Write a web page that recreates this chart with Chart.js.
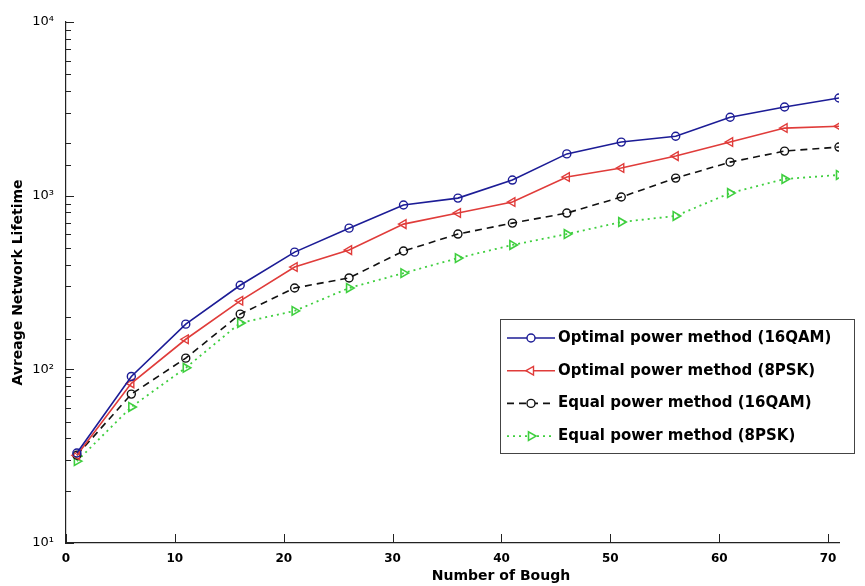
<!DOCTYPE html>
<html>
<head>
<meta charset="utf-8">
<script src="https://cdn.jsdelivr.net/npm/chart.js@4"></script>
<style>
  body { margin: 0; background: #fff; }
  #wrap { width: 865px; height: 586px; }
</style>
</head>
<body>
<div id="wrap"><canvas id="myChart" width="865" height="586"></canvas></div>
<script>
// data
const boughs = [1, 6, 11, 16, 21, 26, 31, 36, 41, 46, 51, 56, 61, 66, 71];
const optimal16qam = [33, 91, 182, 305, 473, 650, 883, 968, 1230, 1740, 2035, 2200, 2830, 3240, 3650];
const optimal8psk = [32, 83, 149, 248, 388, 486, 686, 794, 919, 1280, 1442, 1690, 2035, 2450, 2510];
const equal16qam = [32, 72, 116, 208, 294, 336, 480, 601, 695, 794, 982, 1262, 1560, 1806, 1905];
const equal8psk = [29.6, 60.7, 102, 185, 217, 294, 358, 437, 520, 601, 705, 764, 1035, 1247, 1316];
const seriesNames = [
    'Optimal power method (16QAM)',
    'Optimal power method (8PSK)',
    'Equal power method (16QAM)',
    'Equal power method (8PSK)'
];
const xTicks = [0, 10, 20, 30, 40, 50, 60, 70];
const yDecades = [10, 100, 1000, 10000];
const supers = { 1: '\u00b9', 2: '\u00b2', 3: '\u00b3', 4: '\u2074' };

const toPoints = vals => vals.map((v, i) => ({ x: boughs[i], y: v }));

// inward tick marks, MATLAB style
const tickMarks = {
    id: 'tickMarks',
    afterDraw(chart) {
        const { ctx, chartArea, scales } = chart;
        ctx.save();
        ctx.strokeStyle = '#222';
        ctx.lineWidth = 1;
        ctx.beginPath();
        for (let t of scales.y.ticks) {
            const p = Math.round(scales.y.getPixelForValue(t.value)) + 0.5;
            const major = yDecades.includes(t.value);
            ctx.moveTo(chartArea.left, p);
            ctx.lineTo(chartArea.left + (major ? 8 : 5), p);
        }
        for (let v of xTicks) {
            const p = Math.round(scales.x.getPixelForValue(v)) + 0.5;
            ctx.moveTo(p, chartArea.bottom);
            ctx.lineTo(p, chartArea.bottom - 9);
        }
        ctx.stroke();
        ctx.restore();
    }
};

// axis titles
const axisTitles = {
    id: 'axisTitles',
    afterDraw(chart) {
        const { ctx, chartArea } = chart;
        ctx.save();
        ctx.fillStyle = '#000';
        ctx.font = 'bold 14px "DejaVu Sans"';
        ctx.textAlign = 'center';
        ctx.textBaseline = 'middle';
        ctx.fillText('Number of Bough', 501, 576);
        ctx.translate(18, (chartArea.top + chartArea.bottom) / 2);
        ctx.rotate(-Math.PI / 2);
        ctx.fillText('Avreage Network Lifetime', 0, 0);
        ctx.restore();
    }
};

// legend box inside the plot
const boxLegend = {
    id: 'boxLegend',
    afterDraw(chart) {
        const { ctx } = chart;
        const left = 500, top = 319, right = 854, bottom = 453;
        ctx.save();
        ctx.fillStyle = '#fff';
        ctx.fillRect(left, top, right - left, bottom - top);
        ctx.strokeStyle = '#444';
        ctx.lineWidth = 1;
        ctx.strokeRect(left + 0.5, top + 0.5, right - left, bottom - top);
        chart.data.datasets.forEach((ds, i) => {
            const y = 338 + i * 32.7;
            ctx.strokeStyle = ds.borderColor;
            ctx.lineWidth = ds.borderWidth;
            ctx.setLineDash(ds.borderDash || []);
            ctx.beginPath();
            ctx.moveTo(507, y);
            ctx.lineTo(555, y);
            ctx.stroke();
            ctx.setLineDash([]);
            ctx.fillStyle = '#fff';
            ctx.lineWidth = ds.pointBorderWidth;
            Chart.helpers.drawPoint(ctx, {
                pointStyle: ds.pointStyle,
                radius: ds.pointRadius,
                rotation: ds.pointRotation || 0,
                borderWidth: ds.pointBorderWidth
            }, 531, y);
            ctx.fillStyle = '#000';
            ctx.font = 'bold 15px "DejaVu Sans"';
            ctx.textAlign = 'left';
            ctx.textBaseline = 'middle';
            ctx.fillText(ds.label, 558, y);
        });
        ctx.restore();
    }
};

const ctx = document.getElementById('myChart').getContext('2d');
const myChart = new Chart(ctx, {
    type: 'line',
    data: {
        datasets: [{
            label: seriesNames[0],
            data: toPoints(optimal16qam),
            borderColor: '#1c1c96',
            borderWidth: 1.6,
            pointStyle: 'circle',
            pointRadius: 4,
            pointBorderWidth: 1.4,
            pointBackgroundColor: 'transparent'
        }, {
            label: seriesNames[1],
            data: toPoints(optimal8psk),
            borderColor: '#e03c3a',
            borderWidth: 1.6,
            pointStyle: 'triangle',
            pointRotation: -90,
            pointRadius: 5,
            pointBorderWidth: 1.4,
            pointBackgroundColor: 'transparent'
        }, {
            label: seriesNames[2],
            data: toPoints(equal16qam),
            borderColor: '#111',
            borderWidth: 1.6,
            borderDash: [7, 5],
            pointStyle: 'circle',
            pointRadius: 4,
            pointBorderWidth: 1.4,
            pointBackgroundColor: 'transparent'
        }, {
            label: seriesNames[3],
            data: toPoints(equal8psk),
            borderColor: '#3fcf3f',
            borderWidth: 1.8,
            borderDash: [2, 4],
            pointStyle: 'triangle',
            pointRotation: 90,
            pointRadius: 5,
            pointBorderWidth: 1.6,
            pointBackgroundColor: 'transparent'
        }]
    },
    options: {
        responsive: false,
        animation: false,
        layout: { padding: { top: 22, right: 26, left: 0, bottom: 0 } },
        plugins: {
            legend: { display: false },
            tooltip: { enabled: false }
        },
        elements: { line: { tension: 0 } },
        scales: {
            x: {
                type: 'linear',
                min: 0,
                max: 71,
                grid: { display: false, drawTicks: false },
                border: { display: true, color: '#222', width: 1.2 },
                ticks: {
                    stepSize: 10,
                    includeBounds: false,
                    padding: 9,
                    color: '#000',
                    maxRotation: 0,
                    font: { family: 'DejaVu Sans', size: 12, weight: 'bold' }
                },
                afterFit(scale) { scale.height = 43; }
            },
            y: {
                type: 'logarithmic',
                min: 10,
                max: 10000,
                grid: { display: false, drawTicks: false },
                border: { display: true, color: '#222', width: 1.2 },
                ticks: {
                    autoSkip: false,
                    padding: 12,
                    color: '#000',
                    font: { family: 'DejaVu Sans', size: 13 },
                    callback: v => {
                        const e = Math.round(Math.log10(v));
                        return yDecades.includes(v) ? '10' + supers[e] : '';
                    }
                },
                afterFit(scale) { scale.width = 66; }
            }
        }
    },
    plugins: [tickMarks, axisTitles, boxLegend]
});
</script>
</body>
</html>
